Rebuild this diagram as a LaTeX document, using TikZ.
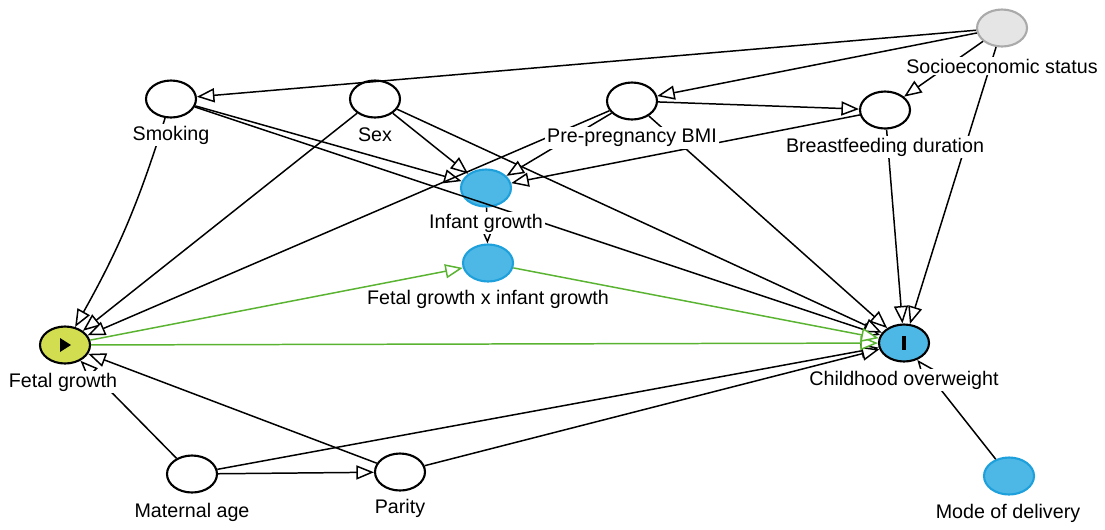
\documentclass[tikz,border=0pt]{standalone}
\usepackage{fontspec}
\setmainfont{Liberation Sans}
\usetikzlibrary{arrows.meta,shapes.geometric}
\definecolor{exblue}{RGB}{77,184,230}
\definecolor{exbord}{RGB}{30,160,220}
\definecolor{fgfill}{RGB}{210,222,80}
\definecolor{sesfill}{RGB}{229,229,229}
\definecolor{sesbord}{RGB}{170,170,170}
\definecolor{causal}{RGB}{90,180,50}
\begin{document}
\begin{tikzpicture}[x=0.02cm,y=-0.02cm,font=\fontsize{11.2}{13}\selectfont,
  var/.style={ellipse,draw,line width=1.2pt,minimum width=1cm,minimum height=0.74cm,inner sep=0pt},
  lab/.style={fill=white,inner sep=1pt},
  edge/.style={line width=0.85pt,-{Triangle[length=10pt,width=8pt,fill=white]}},
  cedge/.style={edge,draw=causal}]
\useasboundingbox (0,0) rectangle (1105,529);
% nodes
\node[var,fill=sesfill,draw=sesbord] (ses) at (1002,28) {};
\node[var,fill=white] (smk) at (171,99) {};
\node[var,fill=white] (sex) at (375,99) {};
\node[var,fill=white] (bmi) at (632,101) {};
\node[var,fill=white] (bf) at (885,110) {};
\node[var,fill=exblue,draw=exbord] (ig) at (486,188) {};
\node[var,fill=exblue,draw=exbord] (fxi) at (488,263) {};
\node[var,fill=fgfill] (fg) at (65,345) {};
\node[var,fill=exblue] (co) at (904,343) {};
\node[var,fill=white] (ma) at (192,474) {};
\node[var,fill=white] (par) at (400,472) {};
\node[var,fill=exblue,draw=exbord] (mod) at (1009,476) {};
% symbols
\fill (fg) ++(-5,-7) -- ++(11,7) -- ++(-11,7) -- cycle;
\fill (co) ++(-2,-7) rectangle ++(4,14);
% edges
\draw[edge] (ses) -- (smk);
\draw[edge] (ses) -- (bmi);
\draw[edge] (ses) -- (bf);
\draw[edge] (ses) -- (co);
\draw[edge] (smk) -- (ig);
\draw[edge] (smk) -- (co);
\draw[edge] (smk) to[bend left=6] (fg);
\draw[edge] (sex) -- (ig);
\draw[edge] (sex) -- (co);
\draw[edge] (sex) -- (fg);
\draw[edge] (bmi) -- (bf);
\draw[edge] (bmi) -- (ig);
\draw[edge] (bmi) -- (fg);
\draw[edge] (bmi) -- (co);
\draw[edge] (bf) -- (ig);
\draw[edge] (bf) -- (co);
\draw[edge] (ig) -- (fxi);
\draw[edge] (ma) -- (fg);
\draw[edge] (ma) -- (par);
\draw[edge] (ma) -- (co);
\draw[edge] (par) -- (fg);
\draw[edge] (par) -- (co);
\draw[edge] (mod) -- (co);
\draw[cedge] (fg) -- (fxi);
\draw[cedge] (fg) -- (co);
\draw[cedge] (fxi) -- (co);
% labels
\node[lab] (lses) at (1002,66) {Socioeconomic status};
\node[lab] (lsmk) at (171,135) {Smoking};
\node[lab] (lsex) at (375,135) {Sex};
\node[lab] (lbmi) at (632,138) {Pre-pregnancy BMI};
\node[lab] (lbf) at (885,147) {Breastfeeding duration};
\node[lab] (lig) at (486,223) {Infant growth};
\node[lab] (lfxi) at (488,299) {Fetal growth x infant growth};
\node[lab] (lfg) at (63,382) {Fetal growth};
\node[lab] (lco) at (904,380) {Childhood overweight};
\node[lab] (lma) at (192,512) {Maternal age};
\node[lab] (lpar) at (400,508) {Parity};
\node[lab] (lmod) at (1008,513) {Mode of delivery};
\end{tikzpicture}
\end{document}
